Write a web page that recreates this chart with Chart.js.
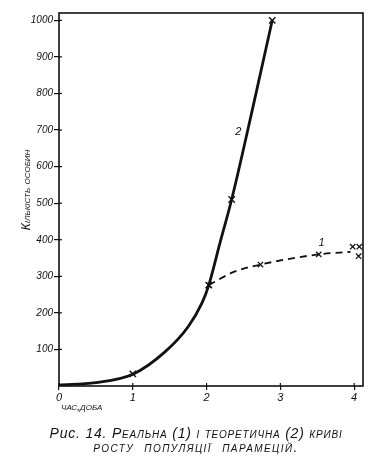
<!DOCTYPE html>
<html><head><meta charset="utf-8">
<script src="https://cdn.jsdelivr.net/npm/chart.js@4.4.1/dist/chart.umd.min.js"></script>
<style>
html,body{margin:0;padding:0;background:#fff;}
#wrap{position:relative;width:386px;height:464px;}
#c{position:absolute;left:0;top:0;}
#cap{position:absolute;left:3px;top:426px;width:386px;text-align:center;font:italic 14px "Liberation Sans",Arial,sans-serif;color:#111;line-height:14px;letter-spacing:0.8px;}
#cap .sc{font-variant:small-caps;}
#cap .l2{letter-spacing:1.4px;word-spacing:5px;}
</style></head>
<body><div id="wrap"><canvas id="c" width="386" height="464"></canvas>
<div id="cap">Рис. 14. <span class="sc">Реальна (1) і теоретична (2) криві</span><br><span class="sc l2">росту популяції парамецій.</span></div></div>
<script>
// Tick labels
const xTicks = [0, 1, 2, 3, 4];
const yTicks = [100, 200, 300, 400, 500, 600, 700, 800, 900, 1000];
// Curve 2 – theoretical (solid)
const theoX = [0, 0.5, 1, 1.44, 1.75, 1.94, 2.03, 2.18, 2.34, 2.62, 2.89];
const theoY = [3, 9, 32, 94, 162, 228, 276, 390, 510, 755, 1000];
const theoMarkX = [1, 2.03, 2.34, 2.89];
const theoMarkY = [33, 276, 510, 1000];
// Curve 1 – real (dashed)
const realX = [2.03, 2.37, 2.73, 3.52, 3.95];
const realY = [276, 312, 332, 360, 367];
const realMarkX = [2.03, 2.73, 3.52, 3.98, 4.07, 4.06];
const realMarkY = [276, 332, 360, 381, 381, 355];
// Curve labels
const curveLabels = ['1', '2'];
const curveLabelX = [3.56, 2.43];
const curveLabelY = [392, 694];

const pts = (xs, ys) => xs.map((x, i) => ({x: x, y: ys[i]}));
const INK = '#111';
const FONT = '"Liberation Sans", Arial, sans-serif';

const deco = {
  id: 'deco',
  afterDraw(chart) {
    const ctx = chart.ctx, a = chart.chartArea;
    const xs = chart.scales.x, ys = chart.scales.y;
    ctx.save();
    ctx.strokeStyle = INK; ctx.lineWidth = 1.6;
    ctx.strokeRect(a.left, a.top, a.right - a.left, a.bottom - a.top);
    ctx.lineWidth = 1.2;
    xTicks.forEach(v => { const p = xs.getPixelForValue(v); ctx.beginPath(); ctx.moveTo(p, a.bottom); ctx.lineTo(p, a.bottom - 3); ctx.stroke(); });
    yTicks.forEach(v => { const p = ys.getPixelForValue(v); ctx.beginPath(); ctx.moveTo(a.left, p); ctx.lineTo(a.left + 3, p); ctx.stroke(); });
    ctx.fillStyle = INK;
    ctx.font = 'italic 11px ' + FONT;
    ctx.textAlign = 'center'; ctx.textBaseline = 'middle';
    curveLabels.forEach((t, i) => ctx.fillText(t, xs.getPixelForValue(curveLabelX[i]), ys.getPixelForValue(curveLabelY[i])));
    ctx.font = 'italic small-caps 11px ' + FONT;
    ctx.textAlign = 'left';
    ctx.fillText('час,доба', a.left + 2, a.bottom + 21);
    ctx.save();
    ctx.translate(27, 190);
    ctx.rotate(-Math.PI / 2);
    ctx.textAlign = 'center';
    ctx.font = 'italic small-caps 12px ' + FONT;
    ctx.fillText('Кількість особин', 0, 0);
    ctx.restore();
    ctx.restore();
  }
};

new Chart(document.getElementById('c'), {
  type: 'scatter',
  data: {
    datasets: [
      {data: pts(theoX, theoY), showLine: true, borderColor: INK, borderWidth: 2.8, pointRadius: 0, cubicInterpolationMode: 'monotone'},
      {data: pts(realX, realY), showLine: true, borderColor: INK, borderWidth: 1.8, borderDash: [7, 5], pointRadius: 0, cubicInterpolationMode: 'monotone'},
      {data: pts(theoMarkX, theoMarkY), showLine: false, pointStyle: 'crossRot', pointRadius: 4.5, borderColor: INK, pointBorderWidth: 1.4},
      {data: pts(realMarkX, realMarkY), showLine: false, pointStyle: 'crossRot', pointRadius: 3.8, borderColor: INK, pointBorderWidth: 1.3}
    ]
  },
  options: {
    responsive: false, animation: false,
    layout: {padding: {top: 13, right: 23, left: 0, bottom: 0}},
    plugins: {legend: {display: false}, tooltip: {enabled: false}},
    scales: {
      x: {
        type: 'linear', min: 0, max: 4.12,
        afterBuildTicks: s => { s.ticks = xTicks.map(v => ({value: v})); },
        afterFit: s => { s.height = 78; },
        border: {display: false},
        grid: {drawOnChartArea: false, drawTicks: true, tickLength: 4, color: INK, lineWidth: 1.2},
        ticks: {color: INK, padding: 1, callback: v => String(v), font: {family: FONT, style: 'italic', size: 11}}
      },
      y: {
        type: 'linear', min: 0, max: 1020,
        afterBuildTicks: s => { s.ticks = yTicks.map(v => ({value: v})); },
        afterFit: s => { s.width = 59; },
        border: {display: false},
        grid: {drawOnChartArea: false, drawTicks: true, tickLength: 5, color: INK, lineWidth: 1.2},
        ticks: {color: INK, padding: 1, callback: v => String(v), font: {family: FONT, style: 'italic', size: 10}}
      }
    }
  },
  plugins: [deco]
});
</script></body></html>
